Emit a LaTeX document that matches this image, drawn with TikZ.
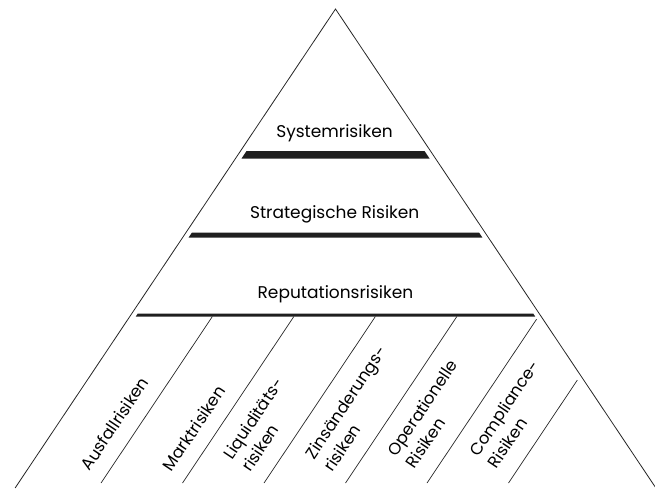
\documentclass[tikz,border=0pt]{standalone}
\usepackage{fontspec}
\setmainfont{Poppins}
\begin{document}
\begin{tikzpicture}[x=1pt,y=-1pt,
  edge/.style={line width=0.8pt,black!85},
  divider/.style={line width=0.7pt,black!85},
  barfill/.style={fill=black!88,draw=none},
  lvl/.style={inner sep=0pt,anchor=base,font=\fontsize{17}{22}\selectfont},
  rot/.style={inner sep=0pt,anchor=south west,rotate=56.2,align=left,font=\fontsize{16.5}{22}\selectfont}]
\useasboundingbox (0,0) rectangle (655,488);
\clip (0,0) rectangle (655,488);
% pyramid
\coordinate (apex) at (335.5,9);
\coordinate (bl) at (15.1,488);
\coordinate (br) at (655.9,488);
\draw[edge] (bl) -- (apex) -- (br);
% bars
\fill[barfill] (246.5,151) -- (424.5,151) -- (429.5,158.5) -- (241.5,158.5) -- cycle;
\fill[barfill] (192,232.5) -- (479,232.5) -- (482.4,237.5) -- (188.6,237.5) -- cycle;
\fill[barfill] (137.8,313.5) -- (533.2,313.5) -- (535.2,316.5) -- (135.8,316.5) -- cycle;
% dividers
\coordinate (d1b) at (101,483);   \coordinate (d1t) at (212.4,316.5);
\coordinate (d2b) at (182.5,483); \coordinate (d2t) at (293.9,316.5);
\coordinate (d3b) at (264,483);   \coordinate (d3t) at (375.4,316.5);
\coordinate (d4b) at (345.5,483); \coordinate (d4t) at (456.9,316.5);
\coordinate (d5b) at (427,483);   \coordinate (d5t) at (536.6,319.2);
\coordinate (d6b) at (508.5,483); \coordinate (d6t) at (577.3,380.1);
\foreach \i in {1,...,6} \draw[divider] (d\i b) -- (d\i t);
% level labels
\node[lvl] (sys) at (334.5,137.5) {Systemrisiken};
\node[lvl] (strat) at (334.7,218.3) {Strategische Risiken};
\node[lvl] (rep) at (335.5,298) {Reputationsrisiken};
% rotated labels
\node[rot] (aus) at (90,472) {Ausfallrisiken};
\node[rot] (markt) at (172,473) {Marktrisiken};
\node[rot] (liq) at (251,473) {Liquiditäts-\\risiken};
\node[rot] (zins) at (333,473) {Zinsänderungs-\\risiken};
\node[rot] (op) at (415,470) {Operationelle\\Risiken};
\node[rot] (comp) at (497,470) {Compliance-\\Risiken};
\end{tikzpicture}
\end{document}
